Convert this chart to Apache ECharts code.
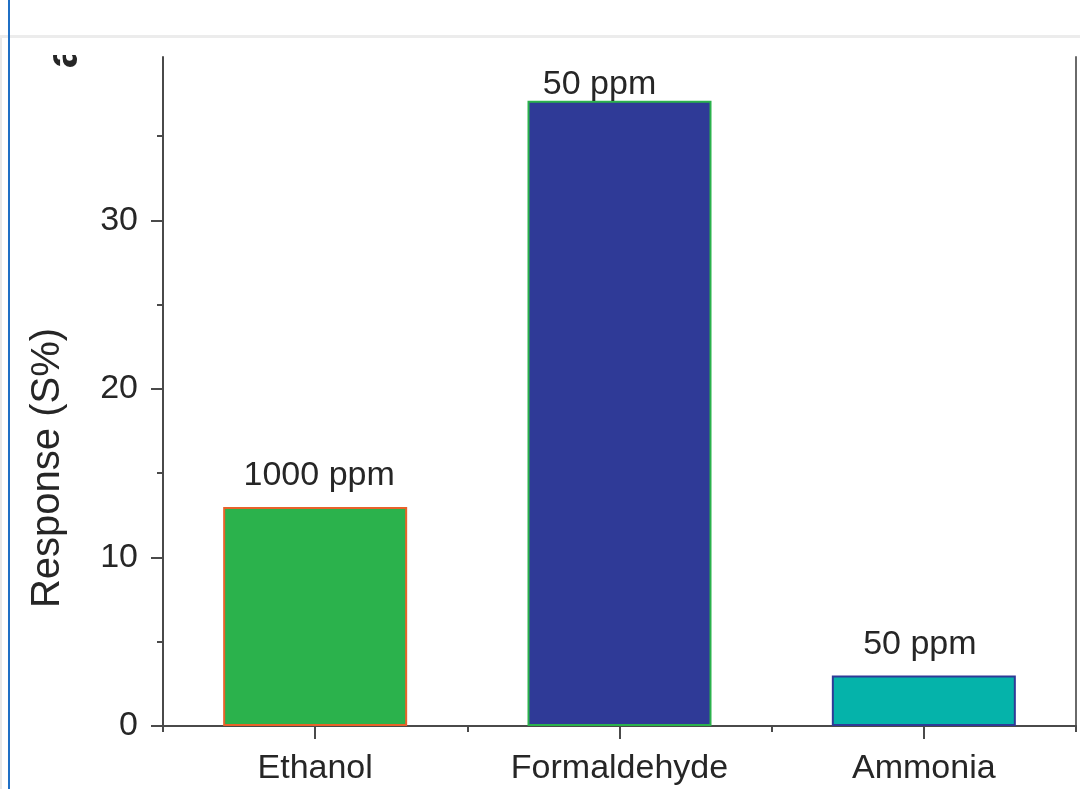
<!DOCTYPE html>
<html>
<head>
<meta charset="utf-8">
<script src="https://cdn.jsdelivr.net/npm/echarts@6/dist/echarts.min.js"></script>
<style>
  html, body { margin: 0; padding: 0; background: #ffffff; }
  #chart { width: 1080px; height: 789px; }
</style>
</head>
<body>
<div id="chart"></div>
<script>
// Gas sensor response (S%) for three test gases
const gases = ['Ethanol', 'Formaldehyde', 'Ammonia'];
const responses = [13.0, 37.1, 3.0];
const concentrations = ['1000 ppm', '50 ppm', '50 ppm'];
const majorTicks = [0, 10, 20, 30];
const minorTicks = [5, 15, 25, 35];
const axisMax = 39.7;

// Per-bar appearance
const fills = ['#2bb24c', '#2f3a97', '#05b3aa'];
const edges = ['#e8622a', '#2bb24c', '#2f3a97'];
const labelShift = [[4, 0], [-20, 15], [-4, 0]];

const FONT = '"Liberation Sans", Arial, Helvetica, sans-serif';
const INK = '#262626';
const AXIS = '#4a4a4a';
const TEXT_SIZE = 34;

const barData = responses.map((v, i) => ({
  value: v,
  itemStyle: { color: fills[i], borderColor: edges[i], borderWidth: 2 },
  label: { formatter: concentrations[i], offset: labelShift[i] }
}));

const chart = echarts.init(document.getElementById('chart'), null, { renderer: 'canvas' });

chart.setOption({
  backgroundColor: '#ffffff',
  animation: false,
  grid: { left: 163, right: 4, top: 57, bottom: 63, containLabel: false },
  xAxis: [
    {
      type: 'category',
      data: gases,
      axisLine: { show: true, lineStyle: { color: AXIS, width: 2 } },
      axisTick: { show: true, alignWithLabel: true, length: 13, lineStyle: { color: AXIS, width: 2 } },
      axisLabel: { color: INK, fontFamily: FONT, fontSize: TEXT_SIZE, margin: 26 },
      splitLine: { show: false }
    },
    {
      type: 'category',
      data: gases,
      position: 'bottom',
      axisLine: { show: false },
      axisTick: { show: true, alignWithLabel: false, length: 6, lineStyle: { color: AXIS, width: 2 } },
      axisLabel: { show: false },
      splitLine: { show: false }
    }
  ],
  yAxis: [
    {
      type: 'value',
      min: 0,
      max: axisMax,
      position: 'left',
      axisLine: { show: true, lineStyle: { color: AXIS, width: 2 } },
      axisTick: { show: true, customValues: majorTicks, length: 12, lineStyle: { color: AXIS, width: 2 } },
      axisLabel: { customValues: majorTicks, color: INK, fontFamily: FONT, fontSize: TEXT_SIZE, margin: 25 },
      splitLine: { show: false }
    },
    {
      type: 'value',
      min: 0,
      max: axisMax,
      position: 'left',
      axisLine: { show: false },
      axisTick: { show: true, customValues: minorTicks, length: 6, lineStyle: { color: AXIS, width: 2 } },
      axisLabel: { show: false },
      splitLine: { show: false }
    },
    {
      type: 'value',
      min: 0,
      max: axisMax,
      position: 'right',
      axisLine: { show: true, lineStyle: { color: '#6a6a6a', width: 2 } },
      axisTick: { show: false },
      axisLabel: { show: false },
      splitLine: { show: false }
    }
  ],
  series: [
    {
      type: 'bar',
      xAxisIndex: 0,
      yAxisIndex: 0,
      data: barData,
      barWidth: 184,
      label: {
        show: true,
        position: 'top',
        distance: 14,
        color: INK,
        fontFamily: FONT,
        fontSize: TEXT_SIZE
      }
    }
  ],
  graphic: [
    // page frame bits
    { type: 'rect', left: 0, top: 38, shape: { width: 2, height: 751 }, style: { fill: '#e9e9e9' }, z: 1 },
    { type: 'rect', left: 0, top: 35, shape: { width: 1080, height: 3 }, style: { fill: '#ececec' }, z: 1 },
    // rotated y-axis title
    {
      type: 'text',
      x: 48, y: 468,
      rotation: Math.PI / 2,
      style: {
        text: 'Response (S%)',
        fill: INK,
        font: '40px ' + FONT,
        textAlign: 'center',
        textVerticalAlign: 'middle'
      },
      z: 5
    },
    // panel letter, partly hidden under the panel edge
    {
      type: 'text',
      x: 65, y: 56,
      rotation: Math.PI / 2,
      style: {
        text: 'a',
        fill: INK,
        font: 'bold 44px ' + FONT,
        textAlign: 'center',
        textVerticalAlign: 'middle'
      },
      z: 5
    },
    { type: 'rect', left: 30, top: 38, shape: { width: 80, height: 17 }, style: { fill: '#ffffff' }, z: 6 },
    { type: 'rect', left: 8, top: 0, shape: { width: 2, height: 789 }, style: { fill: '#1f6fc5' }, z: 7 }
  ]
});
</script>
</body>
</html>
